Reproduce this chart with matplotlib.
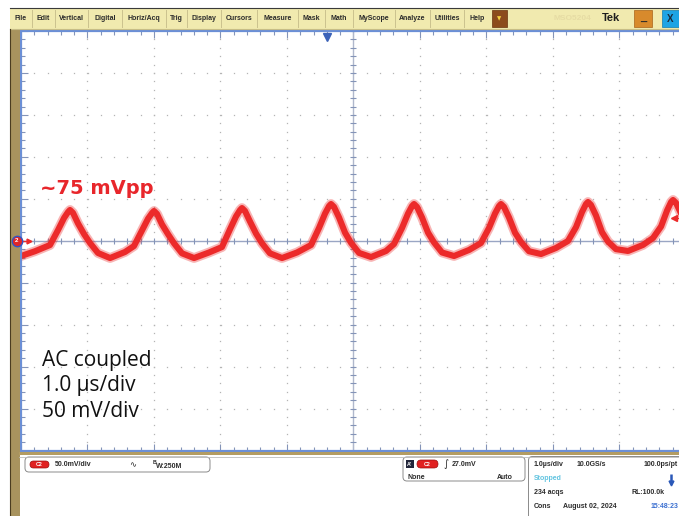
import numpy as np
import matplotlib
matplotlib.use("Agg")
import matplotlib.pyplot as plt
from matplotlib.patches import Rectangle, FancyBboxPatch
import matplotlib.transforms as mtransforms

# CH2 trace: time in us from screen centre, level in mV
# (one row per ripple cycle)
t_us = [-5.0, -4.79,
        -4.564, -4.443, -4.353, -4.293, -4.263, -4.218, -4.143, -4.052, -3.962, -3.842, -3.661, -3.436,
        -3.301, -3.180, -3.090, -3.030, -3.000, -2.955, -2.880, -2.789, -2.699, -2.579, -2.398, -2.173,
        -1.978, -1.857, -1.767, -1.707, -1.677, -1.632, -1.557, -1.466, -1.376, -1.256, -1.075, -0.850,
        -0.639, -0.518, -0.428, -0.368, -0.338, -0.293, -0.218, -0.127, -0.037, 0.083, 0.264, 0.489,
        0.609, 0.730, 0.820, 0.880, 0.910, 0.955, 1.030, 1.121, 1.211, 1.331, 1.512, 1.737,
        1.917, 2.038, 2.128, 2.188, 2.218, 2.263, 2.338, 2.429, 2.519, 2.639, 2.820, 3.045,
        3.225, 3.346, 3.436, 3.496, 3.526, 3.571, 3.646, 3.737, 3.827, 3.947, 4.128, 4.353,
        4.504, 4.625, 4.715, 4.775, 4.805, 4.850, 4.925, 5.0]
v_mv = [-18.2, -12.5,
        -5.1, 12.8, 27.1, 34.2, 36.7, 33.2, 20.7, 8.0, -2.7, -14.6, -20.6, -13.4,
        -6.3, 12.4, 26.3, 33.0, 35.5, 32.0, 19.5, 7.8, -3.0, -15.0, -20.6, -14.0,
        -7.5, 13.7, 28.9, 36.5, 39.0, 35.5, 23.0, 8.6, -3.0, -15.0, -20.6, -14.0,
        -5.1, 15.3, 32.4, 41.3, 43.8, 40.3, 27.8, 9.6, -2.5, -14.5, -19.4, -12.2,
        -3.9, 15.3, 32.4, 41.3, 43.8, 40.3, 27.8, 9.6, -2.0, -14.0, -18.2, -11.0,
        -2.7, 15.3, 32.4, 41.3, 43.8, 40.3, 27.8, 9.6, -1.5, -12.5, -15.8, -8.6,
        -0.3, 16.2, 34.2, 43.7, 46.2, 42.7, 30.2, 10.2, -1.0, -10.0, -12.2, -5.0,
        3.3, 17.0, 36.0, 46.1, 48.6, 45.1, 32.6, 20.0]

MV_PER_DIV = 50.0
US_PER_DIV = 1.0
TRIG_LEVEL_MV = 27.0
TRIG_POS_US = -0.4

menu_items = ["File", "Edit", "Vertical", "Digital", "Horiz/Acq", "Trig", "Display",
              "Cursors", "Measure", "Mask", "Math", "MyScope", "Analyze", "Utilities", "Help"]
menu_seps = [10, 32, 55, 88, 122, 166, 187, 221, 257, 298, 325, 353, 395, 430, 464, 491]

notes = ["AC coupled", "1.0 \u00b5s/div", "50 mV/div"]
ripple_label = "~75 mVpp"

W, H = 679, 516
RED = "#ec2a2a"
BLUE = "#6b8fd6"
TICK = "#8494b8"
UI_FONT = "Liberation Sans"

fig = plt.figure(figsize=(W / 100, H / 100), dpi=100)

# graticule: 10 x 10 divisions, right edge runs off the screenshot
gx0, gx1, gy0, gy1 = 21, 686, 31, 450.5
ax = fig.add_axes([gx0 / W, (H - gy1) / H, (gx1 - gx0) / W, (gy1 - gy0) / H], zorder=1)
ax.set_xlim(-5 * US_PER_DIV, 5 * US_PER_DIV)
ax.set_ylim(-5 * MV_PER_DIV, 5 * MV_PER_DIV)
ax.set_facecolor("white")
for side in ["left", "top", "bottom"]:
    ax.spines[side].set_color(BLUE)
    ax.spines[side].set_linewidth(1.6)
ax.spines["right"].set_visible(False)

x_major = np.arange(-5, 5.01, 1.0) * US_PER_DIV
x_minor = np.arange(-5, 5.01, 0.2) * US_PER_DIV
y_major = np.arange(-5, 5.01, 1.0) * MV_PER_DIV
y_minor = np.arange(-5, 5.01, 0.2) * MV_PER_DIV
ax.set_xticks(x_major)
ax.set_xticks(x_minor, minor=True)
ax.set_yticks(y_major)
ax.set_yticks(y_minor, minor=True)
ax.tick_params(which="both", direction="in", top=True, bottom=True, left=True, right=True,
               labelbottom=False, labelleft=False, color=TICK, width=0.8)
ax.tick_params(which="major", length=5)
ax.tick_params(which="minor", length=3)

# dotted division lines
gx, gy = np.meshgrid(x_major[1:-1], y_minor)
ax.plot(gx.ravel(), gy.ravel(), ls="none", marker="s", ms=0.9, mew=0, color="#b4b4b4")
gx, gy = np.meshgrid(x_minor, y_major[1:-1])
ax.plot(gx.ravel(), gy.ravel(), ls="none", marker="s", ms=0.9, mew=0, color="#b4b4b4")

# centre crosshair with minor ticks
ax.axhline(0, color="#9aa6c4", lw=1.0)
ax.axvline(0, color="#b0b8cc", lw=1.0)
ax.plot(x_minor, np.zeros_like(x_minor), ls="none", marker="|", ms=5, mew=0.8, color=TICK)
ax.plot(np.zeros_like(y_minor), y_minor, ls="none", marker="_", ms=5, mew=0.8, color=TICK)

# trace (noise band + core)
ax.plot(t_us, v_mv, color=RED, lw=7.0, alpha=0.35, solid_joinstyle="round")
ax.plot(t_us, v_mv, color=RED, lw=4.4, solid_joinstyle="round")

# trigger position marker (top) and trigger level arrow (right)
xy_top = mtransforms.blended_transform_factory(ax.transData, ax.transAxes)
ax.plot([TRIG_POS_US], [0.985], transform=xy_top, marker="v", ms=6, color="#3b62b8",
        clip_on=False, zorder=5)
yx_right = mtransforms.blended_transform_factory(ax.transAxes, ax.transData)
ax.plot([0.982, 0.995], [TRIG_LEVEL_MV, TRIG_LEVEL_MV], transform=yx_right, color=RED,
        lw=1.0, clip_on=False, zorder=5)
ax.plot([0.982], [TRIG_LEVEL_MV], transform=yx_right, marker="<", ms=4, color=RED,
        clip_on=False, zorder=5)

# ---- screen chrome in pixel coordinates, drawn over the graticule ----
ui = fig.add_axes([0, 0, 1, 1], zorder=2)
ui.set_xlim(0, W)
ui.set_ylim(H, 0)
ui.axis("off")


def box(x0, y0, x1, y1, **kw):
    ui.add_patch(Rectangle((x0, y0), x1 - x0, y1 - y0, **kw))


def label(x, y, s, size=5, ha="left", color="#2b2b2b", weight="bold", **kw):
    ui.text(x, y, s, fontsize=size, ha=ha, va="center", color=color, weight=weight,
            family=UI_FONT, **kw)


# menu bar
box(10, 8, W, 29, fc="#f1eaaf", ec="none")
ui.plot([10, W], [8, 8], color="#3a3a3a", lw=0.8)
ui.plot([10, W], [29, 29], color="#c7bd86", lw=0.8)
for sx in menu_seps[1:-1]:
    ui.plot([sx, sx], [10, 27], color="#cbc28e", lw=0.7)
for name, a, b in zip(menu_items, menu_seps[:-1], menu_seps[1:]):
    label((a + b) / 2, 18.5, name, ha="center")

box(492, 10, 507, 27, fc="#8c4b1c", ec="#6a3410", lw=0.5)
ui.text(499.5, 18.5, "\u25bc", fontsize=4, ha="center", va="center", color="#f4d040")
label(572, 18.5, "MSO5204", size=6, ha="center", color="#e6dca4")
label(611, 18, "Tek", size=8, ha="center", color="#1e1e1e")
box(634, 10, 652, 27, fc="#d88a2c", ec="#a8641a", lw=0.5)
label(643, 18, "_", size=8, ha="center", color="#2a2a2a")
box(662, 10, W, 27, fc="#1ea4e4", ec="#137cb0", lw=0.5)
label(670.5, 19, "X", size=7, ha="center", color="#1a2a3a")

# left tan frame and the bar under the graticule
box(10, 29, 19.5, H, fc="#a8935e", ec="none")
ui.plot([10.3, 10.3], [29, H], color="#4a3c20", lw=0.8)
box(19, 451.5, W, 454.5, fc="#b39c62", ec="none")
ui.plot([19, W], [456.5, 456.5], color="#bdbdbd", lw=0.6)

# channel 2 ground marker on the 0 mV level
on_zero = mtransforms.blended_transform_factory(ui.transData, ax.transData)
ui.plot([22.5, 28], [0, 0], transform=on_zero, color=RED, lw=1.0, zorder=6)
ui.plot([28.5], [0], transform=on_zero, marker=">", ms=3.5, color=RED, zorder=6)
ui.plot([17], [0], transform=on_zero, marker="o", ms=7.5, mfc="#e02626", mec="#3453c4",
        mew=1.0, zorder=7)
ui.text(17, 0, "2", transform=on_zero, fontsize=4.5, color="white", ha="center",
        va="center", weight="bold", family=UI_FONT, zorder=8)

# annotations
ui.text(40, 193.5, ripple_label, fontsize=14, color="#e8262b", weight="bold",
        family="DejaVu Sans", va="baseline")
for i, s in enumerate(notes):
    ui.text(42, 366 + 25.5 * i, s, fontsize=15, color="#111111", family="Open Sans",
            va="baseline")


def pill(x0, y0, w, h):
    ui.add_patch(FancyBboxPatch((x0, y0), w, h, boxstyle=f"round,pad=0,rounding_size={h / 2}",
                                fc="#e12020", ec="#9c1010", lw=0.5))
    ui.text(x0 + w / 2, y0 + h / 2 + 0.3, "C2", fontsize=3.8, ha="center", va="center",
            color="white", weight="bold", family=UI_FONT)


# channel readout
ui.add_patch(FancyBboxPatch((25, 457), 185, 15, boxstyle="round,pad=0,rounding_size=4",
                            fc="white", ec="#8a8a8a", lw=0.7))
pill(30, 461, 19, 7)
label(55, 465, "50.0mV/div")
ui.text(133, 465, "\u223f", fontsize=6, ha="center", va="center", color="#2b2b2b")
label(153, 462, "B", size=3.8)
label(155.5, 466, "W:250M")

# trigger readout
ui.add_patch(FancyBboxPatch((403, 457), 122, 24, boxstyle="round,pad=0,rounding_size=4",
                            fc="white", ec="#8a8a8a", lw=0.7))
box(406, 460, 413.5, 468, fc="#22263a", ec="none")
label(409.7, 464.2, "A'", size=3.8, ha="center", color="white")
pill(417, 460, 21, 8)
ui.text(446, 464, "\u222b", fontsize=7, ha="center", va="center", color="#2b2b2b")
label(452, 464.5, "27.0mV")
label(408, 477.5, "None")
label(513, 477.5, "Auto", ha="right")

# acquisition readout
ui.add_patch(FancyBboxPatch((528.5, 456.5), 170, 80, boxstyle="round,pad=0,rounding_size=4",
                            fc="white", ec="#8a8a8a", lw=0.7))
label(534, 465, "1.0\u00b5s/div")
label(577, 465, "10.0GS/s")
label(678, 465, "100.0ps/pt", ha="right")
label(534, 479, "Stopped", color="#62c4e0")
ui.plot([670.5, 670.5], [473.5, 481], color="#2a58b8", lw=1.8, solid_capstyle="butt")
ui.plot([670.5], [482.5], marker="v", ms=3.5, color="#2a58b8")
label(534, 493, "234 acqs")
label(665, 493, "RL:100.0k", ha="right")
label(534, 507, "Cons")
label(563, 507, "August 02, 2024")
label(678, 507, "15:48:23", ha="right", color="#3a6fd0")

fig.savefig("out.png", dpi=100)
